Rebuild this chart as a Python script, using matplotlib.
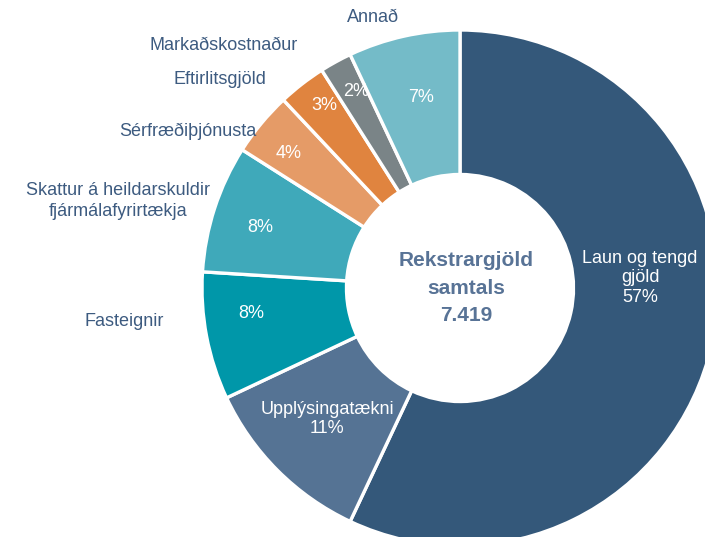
import matplotlib.pyplot as plt

# Data (share of operating expenses, %)
categories = ["Laun og tengd gjöld", "Upplýsingatækni", "Fasteignir",
              "Skattur á heildarskuldir fjármálafyrirtækja", "Sérfræðiþjónusta",
              "Eftirlitsgjöld", "Markaðskostnaður", "Annað"]
shares = [57, 11, 8, 8, 4, 3, 2, 7]
total_label = "7.419"
colors = ["#34587a", "#557394", "#0097a9", "#3fa9ba",
          "#e59b67", "#e0843f", "#7a8487", "#74bbc8"]

plt.rcParams['font.family'] = ['Liberation Sans', 'DejaVu Sans']

W, H = 705, 537
cx, cy, R = 460, 288, 258  # donut centre and radius in pixels

fig = plt.figure(figsize=(W / 100, H / 100), dpi=100)
ax = fig.add_axes([0, 0, 1, 1])
ax.axis('off')


def px(x, y):
    # pixel position -> data coordinates
    return (x - cx) / R, (cy - y) / R


ax.pie(shares, colors=colors, startangle=90, counterclock=False, radius=1,
       wedgeprops=dict(width=0.56, edgecolor='white', linewidth=2.4))
ax.set_aspect('auto')
ax.set_xlim(-cx / R, (W - cx) / R)
ax.set_ylim(-(H - cy) / R, cy / R)

label_color = "#3d5b80"
fs = 13

# outside labels
outside = {
    "Annað": (373, 17),
    "Markaðskostnaður": (224, 45),
    "Eftirlitsgjöld": (220, 79),
    "Sérfræðiþjónusta": (188, 131),
    "Skattur á heildarskuldir\nfjármálafyrirtækja": (118, 201),
    "Fasteignir": (124, 321),
}
for txt, (x, y) in outside.items():
    ax.text(*px(x, y), txt, ha='center', va='center', fontsize=fs,
            color=label_color, linespacing=1.25)

# percentage labels inside the ring
pct_pos = [None, None, (251, 313), (260, 228), (289, 153), (324, 106), (356, 91), (421, 97)]
for s, p in zip(shares, pct_pos):
    if p is not None:
        ax.text(*px(*p), f"{s}%", ha='center', va='center', fontsize=fs, color='white')

ax.text(*px(640, 278), f"Laun og tengd\ngjöld\n{shares[0]}%", ha='center', va='center',
        fontsize=fs, color='white', linespacing=1.2)
ax.text(*px(327, 419), f"Upplýsingatækni\n{shares[1]}%", ha='center', va='center',
        fontsize=fs, color='white', linespacing=1.2)

# centre text
ax.text(*px(466, 288), f"Rekstrargjöld\nsamtals\n{total_label}", ha='center', va='center',
        fontsize=15, fontweight='bold', color="#587396", linespacing=1.55)

fig.savefig("out.png", dpi=100)
